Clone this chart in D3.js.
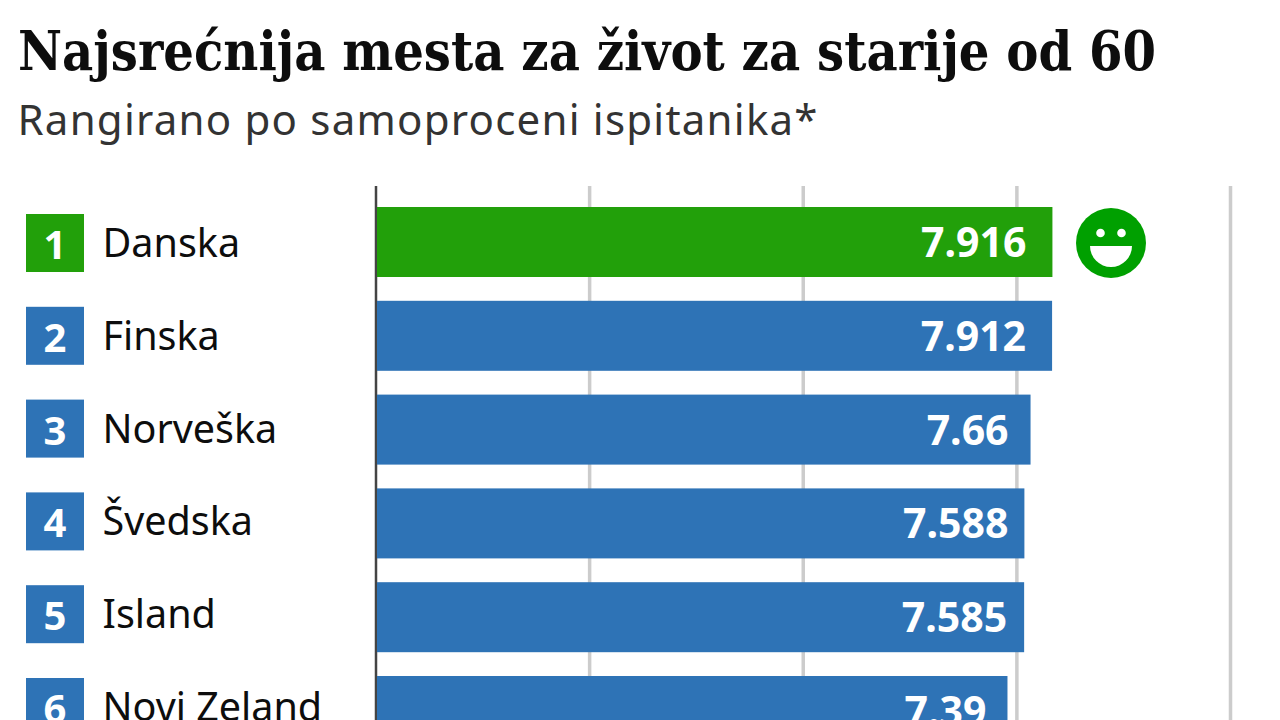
<!DOCTYPE html>
<html>
<head>
<meta charset="utf-8">
<script src="https://cdn.jsdelivr.net/npm/d3@7"></script>
<style>
  html, body { margin: 0; background: #fff; overflow: hidden; }
  svg { display: block; }
  text { font-family: "Noto Sans", sans-serif; }
</style>
</head>
<body>
<script>
var countries = ['Danska', 'Finska', 'Norveška', 'Švedska', 'Island', 'Novi Zeland']
var ranks = [1, 2, 3, 4, 5, 6]
var scores = [7.916, 7.912, 7.66, 7.588, 7.585, 7.39]
var gridTicks = [0, 2.5, 5, 7.5, 10]

// gap between bar end and its label, varies in the original
var labelInsets = [26, 26, 22, 16, 17, 21]

var green = '#22a00a', blue = '#2e73b6'

var svg = d3.select('body').append('svg')
  .attr('width', 1280)
  .attr('height', 720)

svg.append('text')
  .attr('x', 18).attr('y', 70)
  .attr('font-size', 54)
  .attr('font-weight', 700)
  .attr('fill', '#0d0d0d')
  .attr('textLength', 1138)
  .attr('lengthAdjust', 'spacingAndGlyphs')
  .style('font-family', '"DejaVu Serif", serif')
  .style('font-stretch', 'condensed')
  .text('Najsrećnija mesta za život za starije od 60')

svg.append('text')
  .attr('x', 17.5).attr('y', 135)
  .attr('font-size', 42)
  .attr('fill', '#333')
  .attr('textLength', 800)
  .text('Rangirano po samoproceni ispitanika*')

var x = d3.scaleLinear().domain([0, 10]).range([376, 1230.5])

// bars and the rank rows don't share quite the same step
var yBar = d3.scaleBand().domain(countries).range([195.1, 195.1 + 93.8 * 6])
var yRow = d3.scaleBand().domain(countries).range([196.6, 196.6 + 92.8 * 6])

var grid = svg.append('g')
  .attr('transform', 'translate(-0.5,186)')
  .call(d3.axisBottom(x).tickValues(gridTicks).tickSize(540).tickFormat(''))
grid.select('.domain').remove()
grid.selectAll('.tick line')
  .attr('stroke', function(d){ return d === 0 ? '#444' : '#ccc' })
  .attr('stroke-width', function(d){ return d === 0 ? 2.5 : 3.5 })

var rows = countries.map(function(name, i){
  return { name: name, rank: ranks[i], score: scores[i], inset: labelInsets[i], i: i }
})

svg.selectAll('rect.bar').data(rows).enter().append('rect')
  .attr('class', 'bar')
  .attr('x', x(0) + 1)
  .attr('y', function(d){ return yBar(d.name) + (yBar.bandwidth() - 70) / 2 })
  .attr('width', function(d){ return x(d.score) - x(0) - 1 })
  .attr('height', 70)
  .attr('fill', function(d){ return d.i === 0 ? green : blue })

svg.selectAll('text.value').data(rows).enter().append('text')
  .attr('class', 'value')
  .attr('x', function(d){ return x(d.score) - d.inset })
  .attr('y', function(d){ return yBar(d.name) + yBar.bandwidth() / 2 + 15 })
  .attr('text-anchor', 'end')
  .attr('font-size', 41)
  .attr('font-weight', 700)
  .attr('fill', '#fff')
  .text(function(d){ return d.score })

svg.selectAll('rect.rank').data(rows).enter().append('rect')
  .attr('class', 'rank')
  .attr('x', 26)
  .attr('y', function(d){ return yRow(d.name) + yRow.bandwidth() / 2 - 29 })
  .attr('width', 58)
  .attr('height', 58)
  .attr('fill', function(d){ return d.i === 0 ? green : blue })

svg.selectAll('text.rank-no').data(rows).enter().append('text')
  .attr('class', 'rank-no')
  .attr('x', 55)
  .attr('y', function(d){ return yRow(d.name) + yRow.bandwidth() / 2 + 16 })
  .attr('text-anchor', 'middle')
  .attr('font-size', 40)
  .attr('font-weight', 700)
  .attr('fill', '#fff')
  .text(function(d){ return d.rank })

svg.selectAll('text.country').data(rows).enter().append('text')
  .attr('class', 'country')
  .attr('x', 102.5)
  .attr('y', function(d){ return yRow(d.name) + yRow.bandwidth() / 2 + 14 })
  .attr('font-size', 39.5)
  .attr('fill', '#0d0d0d')
  .text(function(d){ return d.name })

// smiley next to the top bar
var face = svg.append('g').attr('transform', 'translate(1111,243)')
face.append('circle').attr('r', 35).attr('fill', '#00a000')
face.selectAll('circle.eye').data([-10.5, 10.5]).enter().append('circle')
  .attr('class', 'eye')
  .attr('cx', function(d){ return d })
  .attr('cy', -10)
  .attr('r', 4.3)
  .attr('fill', '#fff')
face.append('path')
  .attr('d', d3.arc()({ innerRadius: 0, outerRadius: 21, startAngle: Math.PI / 2, endAngle: Math.PI * 1.5 }))
  .attr('transform', 'translate(0,3)')
  .attr('fill', '#fff')
</script>
</body>
</html>
